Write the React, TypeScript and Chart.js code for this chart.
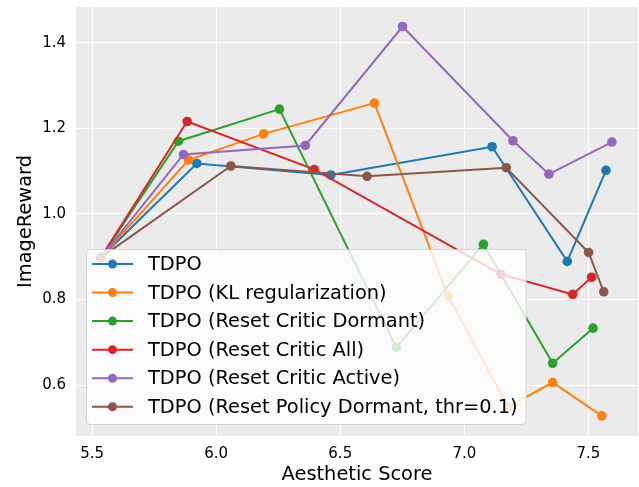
import React, { useEffect, useRef } from "react";
import { Chart, registerables } from "chart.js";

Chart.register(...registerables);

const seriesNames = [
  "TDPO",
  "TDPO (KL regularization)",
  "TDPO (Reset Critic Dormant)",
  "TDPO (Reset Critic All)",
  "TDPO (Reset Critic Active)",
  "TDPO (Reset Policy Dormant, thr=0.1)",
];
const seriesColors = ["#1f77b4", "#ff7f0e", "#2ca02c", "#d62728", "#9467bd", "#8c564b"];

const tdpoX = [5.535, 5.922, 6.462, 7.112, 7.415, 7.571];
const tdpoY = [0.898, 1.118, 1.091, 1.157, 0.889, 1.102];
const klX = [5.535, 5.888, 6.191, 6.638, 6.935, 7.177, 7.356, 7.554];
const klY = [0.898, 1.126, 1.187, 1.259, 0.808, 0.549, 0.606, 0.528];
const rcDormantX = [5.535, 5.848, 6.255, 6.726, 7.077, 7.356, 7.519];
const rcDormantY = [0.898, 1.17, 1.245, 0.688, 0.929, 0.651, 0.733];
const rcAllX = [5.535, 5.883, 6.395, 7.148, 7.437, 7.513];
const rcAllY = [0.898, 1.216, 1.104, 0.859, 0.812, 0.852];
const rcActiveX = [5.535, 5.868, 6.359, 6.751, 7.196, 7.341, 7.595];
const rcActiveY = [0.898, 1.139, 1.16, 1.438, 1.171, 1.093, 1.168];
const rpDormantX = [5.535, 6.059, 6.608, 7.169, 7.501, 7.562];
const rpDormantY = [0.898, 1.112, 1.088, 1.108, 0.91, 0.818];

const xTicks = [5.5, 6.0, 6.5, 7.0, 7.5];
const yTicks = [0.6, 0.8, 1.0, 1.2, 1.4];

const allX = [tdpoX, klX, rcDormantX, rcAllX, rcActiveX, rpDormantX];
const allY = [tdpoY, klY, rcDormantY, rcAllY, rcActiveY, rpDormantY];

const FONT = "'DejaVu Sans', sans-serif";

const bgPlugin = {
  id: "bgPlugin",
  beforeDraw(chart: any) {
    const { ctx, chartArea } = chart;
    ctx.save();
    ctx.fillStyle = "#ebebeb";
    ctx.fillRect(chartArea.left, chartArea.top, chartArea.right - chartArea.left, chartArea.bottom - chartArea.top);
    ctx.restore();
  },
};

const legendPlugin = {
  id: "insideLegend",
  afterDraw(chart: any) {
    const { ctx, chartArea } = chart;
    ctx.save();
    ctx.font = `19.4px ${FONT}`;
    let maxW = 0;
    seriesNames.forEach((n) => (maxW = Math.max(maxW, ctx.measureText(n).width)));
    const x0 = chartArea.left + 10;
    const h = 175;
    const y0 = chartArea.bottom - 12 - h;
    const w = 62 + maxW + 8;
    ctx.beginPath();
    ctx.roundRect(x0 + 0.5, y0 + 0.5, w, h, 4);
    ctx.fillStyle = "rgba(255,255,255,0.8)";
    ctx.fill();
    ctx.strokeStyle = "rgba(204,204,204,0.8)";
    ctx.lineWidth = 1;
    ctx.stroke();
    seriesNames.forEach((n, i) => {
      const cy = y0 + 15 + i * 28.55;
      ctx.strokeStyle = seriesColors[i];
      ctx.lineWidth = 2;
      ctx.beginPath();
      ctx.moveTo(x0 + 6, cy);
      ctx.lineTo(x0 + 47, cy);
      ctx.stroke();
      ctx.fillStyle = seriesColors[i];
      ctx.beginPath();
      ctx.arc(x0 + 26.5, cy, 4.5, 0, Math.PI * 2);
      ctx.fill();
      ctx.fillStyle = "#000";
      ctx.textBaseline = "middle";
      ctx.textAlign = "left";
      ctx.fillText(n, x0 + 62, cy + 1);
    });
    ctx.restore();
  },
};

export default function App() {
  const ref = useRef<HTMLCanvasElement>(null);
  useEffect(() => {
    document.body.style.margin = "0";
    const datasets = seriesNames.map((name, i) => ({
      label: name,
      data: allX[i].map((x, j) => ({ x, y: allY[i][j] })),
      borderColor: seriesColors[i],
      backgroundColor: seriesColors[i],
      borderWidth: 2,
      pointRadius: 4.8,
      pointHoverRadius: 4.8,
      pointBorderWidth: 0,
      showLine: true,
      clip: 8,
      order: seriesNames.length - i,
    }));
    const chart = new Chart(ref.current as HTMLCanvasElement, {
      type: "scatter",
      data: { datasets },
      options: {
        animation: false,
        responsive: false,
        devicePixelRatio: 1,
        layout: { autoPadding: false, padding: { top: 7, right: 1, left: 0, bottom: 0 } },
        plugins: { legend: { display: false }, tooltip: { enabled: false } },
        scales: {
          x: {
            type: "linear",
            min: 5.435,
            max: 7.7,
            afterBuildTicks: (s: any) => {
              s.ticks = xTicks.map((v) => ({ value: v }));
            },
            afterFit: (s: any) => {
              s.height = 51;
              s.paddingLeft = 0;
              s.paddingRight = 0;
              s.paddingTop = 0;
              s.paddingBottom = 0;
            },
            ticks: {
              color: "#000",
              font: { family: FONT, size: 15 },
              padding: 9,
              maxRotation: 0,
              callback: (v: any) => Number(v).toFixed(1),
            },
            grid: { color: "#ffffff", lineWidth: 1, drawTicks: false },
            border: { display: false },
            title: {
              display: true,
              text: "Aesthetic Score",
              color: "#000",
              font: { family: FONT, size: 19.4 },
              padding: { top: 0, bottom: 0 },
            },
          },
          y: {
            type: "linear",
            min: 0.481,
            max: 1.4836,
            afterBuildTicks: (s: any) => {
              s.ticks = yTicks.map((v) => ({ value: v }));
            },
            afterFit: (s: any) => {
              s.width = 76;
              s.paddingLeft = 0;
              s.paddingRight = 0;
              s.paddingTop = 0;
              s.paddingBottom = 0;
            },
            ticks: {
              color: "#000",
              font: { family: FONT, size: 15 },
              padding: 10,
              callback: (v: any) => Number(v).toFixed(1),
            },
            grid: { color: "#ffffff", lineWidth: 1, drawTicks: false },
            border: { display: false },
            title: {
              display: true,
              text: "ImageReward",
              color: "#000",
              font: { family: FONT, size: 19.4 },
              padding: { top: 14, bottom: 0 },
            },
          },
        },
      },
      plugins: [bgPlugin, legendPlugin],
    });
    return () => chart.destroy();
  }, []);
  return (
    <div style={{ position: "absolute", left: 0, top: 0, width: 639, height: 487 }}>
      <canvas ref={ref} width={639} height={487} />
    </div>
  );
}
